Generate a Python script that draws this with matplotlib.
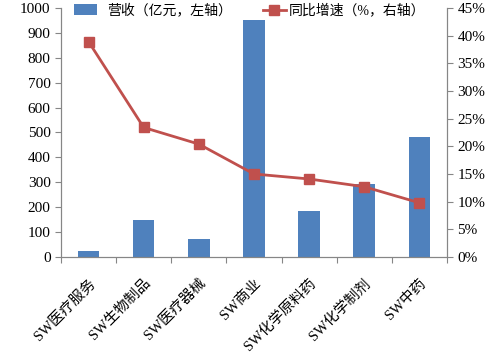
import matplotlib
matplotlib.use("Agg")
import matplotlib.pyplot as plt
import numpy as np
from matplotlib.ticker import FuncFormatter

# data
categories = ["SW医疗服务", "SW生物制品", "SW医疗器械", "SW商业",
              "SW化学原料药", "SW化学制剂", "SW中药"]
revenue = [25, 147, 74, 950, 185, 293, 481]          # 亿元, left axis
growth = [38.9, 23.4, 20.4, 15.0, 14.1, 12.7, 9.8]   # %, right axis

fonts = ["Liberation Serif", "Noto Sans CJK SC"]
plt.rcParams["font.family"] = fonts

fig = plt.figure(figsize=(4.96, 3.58), dpi=100)
ax = fig.add_axes([0.123, 0.282, 0.778, 0.696])
ax2 = ax.twinx()

x = np.arange(len(categories))
bars = ax.bar(x, revenue, width=0.39, color="#4F81BD", label="营收（亿元，左轴）", zorder=2)
line, = ax2.plot(x, growth, color="#C0504D", lw=2, marker="s", ms=7,
                 label="同比增速（%，右轴）", zorder=3)

ax.set_xlim(-0.5, len(categories) - 0.5)
ax.set_ylim(0, 1000)
ax.set_yticks(range(0, 1001, 100))
ax2.set_ylim(0, 45)
ax2.set_yticks(range(0, 46, 5))
ax2.yaxis.set_major_formatter(FuncFormatter(lambda v, p: f"{int(v)}%"))

# category ticks sit between bars
ax.set_xticks(np.arange(-0.5, len(categories), 1.0))
ax.set_xticklabels([])
ax.set_xticks(x, minor=True)
ax.set_xticklabels(categories, minor=True, rotation=45, ha="right",
                   rotation_mode="anchor", fontsize=10.5)
ax.tick_params(axis="x", which="minor", length=0, pad=14)
ax.tick_params(axis="x", which="major", length=4, color="#868686")

for a in (ax, ax2):
    a.tick_params(axis="y", labelsize=11, length=4, color="#868686")
    for s in a.spines.values():
        s.set_color("#868686")
    a.spines["top"].set_visible(False)

ax.legend(handles=[bars], loc="upper left", bbox_to_anchor=(0.02, 1.04),
          frameon=False, fontsize=10, handlelength=1.6, handleheight=0.8,
          borderaxespad=0)
ax2.legend(handles=[line], loc="upper left", bbox_to_anchor=(0.51, 1.04),
           frameon=False, fontsize=10, handlelength=1.6, borderaxespad=0,
           handletextpad=0.2)

fig.savefig("out.png", dpi=100)
